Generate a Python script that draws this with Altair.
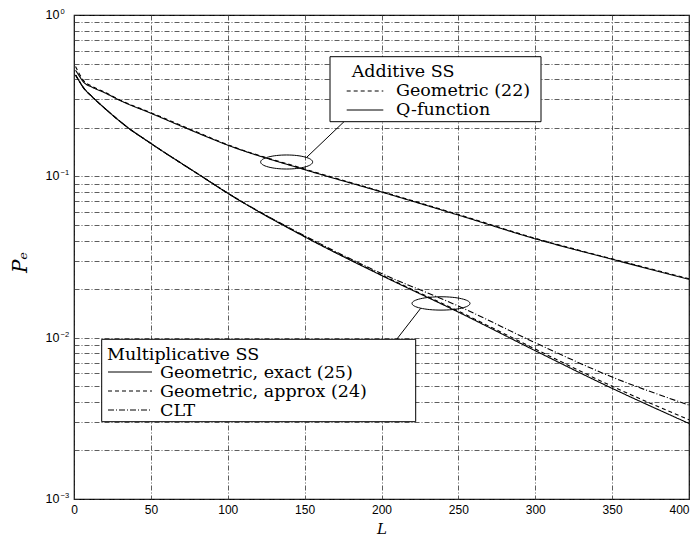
import altair as alt
import pandas as pd

# ---- data ----
L_add = [1, 3, 6, 12, 19, 30, 50, 75, 100, 150, 200, 250, 300, 350, 400]
P_add_q = [0.455, 0.425, 0.386, 0.356, 0.333, 0.295, 0.246, 0.195, 0.156, 0.110, 0.080, 0.0575, 0.041, 0.0306, 0.023]
P_add_geo = [0.48, 0.44, 0.395, 0.36, 0.336, 0.297, 0.248, 0.197, 0.157, 0.111, 0.0805, 0.058, 0.0413, 0.0308, 0.0232]

L_mul = [1, 3, 6, 12, 20, 34, 50, 83, 100, 150, 200, 250, 300, 350, 400]
P_mul_exact = [0.425, 0.395, 0.356, 0.31, 0.264, 0.204, 0.160, 0.100, 0.0785, 0.0422, 0.0243, 0.0144, 0.0083, 0.00485, 0.00294]
P_mul_approx = [0.425, 0.395, 0.356, 0.31, 0.264, 0.204, 0.160, 0.100, 0.0787, 0.0424, 0.0245, 0.0146, 0.0085, 0.0050, 0.0031]
P_clt = [0.425, 0.395, 0.356, 0.31, 0.264, 0.204, 0.160, 0.100, 0.0787, 0.0428, 0.0250, 0.0157, 0.0093, 0.0057, 0.00382]

x_ticks = [0, 50, 100, 150, 200, 250, 300, 350, 400]
decades = [1, 0.1, 0.01, 0.001]
exponents = ["0", "\u22121", "\u22122", "\u22123"]
y_grid = [m * d for d in [0.001, 0.01, 0.1] for m in range(1, 10)] + [1]

series_names = ["add_geo", "add_q", "mul_exact", "mul_approx", "clt"]
series_dash = [[4, 3], [1, 0], [1, 0], [4, 3], [6, 2, 1, 2]]

rows = []
for name, Ls, Ps in [("add_geo", L_add, P_add_geo), ("add_q", L_add, P_add_q),
                     ("mul_exact", L_mul, P_mul_exact), ("mul_approx", L_mul, P_mul_approx),
                     ("clt", L_mul, P_clt)]:
    for l, p in zip(Ls, Ps):
        rows.append({"series": name, "L": l, "P": p})
df = pd.DataFrame(rows)

W, H = 615, 484
xs = alt.Scale(domain=[0, 400], nice=False, zero=False)
ys = alt.Scale(type="log", domain=[0.001, 1], nice=False)

grid_axis_x = alt.Axis(values=x_ticks, grid=True, gridDash=[5, 2, 1, 2], gridColor="#333",
                       gridWidth=0.8, ticks=False, domain=False, labelFont="Liberation Sans",
                       labelFontSize=12, labelPadding=5, labelColor="black", labelFlush=False,
                       labelOverlap=False,
                       labelAlign={"condition": {"test": "datum.value >= 400", "value": "right"}, "value": "center"},
                       title="L", titleFont="DejaVu Serif", titleFontStyle="italic",
                       titleFontWeight="normal", titleFontSize=15, titleY=34,
                       titleBaseline="alphabetic", titleColor="black")
grid_axis_y = alt.Axis(values=y_grid, grid=True, gridDash=[5, 2, 1, 2], gridColor="#333",
                       gridWidth=0.8, ticks=False, domain=False, labels=False,
                       title="P\u2091", titleFont="DejaVu Serif", titleFontStyle="italic",
                       titleFontWeight="normal", titleFontSize=20, titleX=-48, titleY=247,
                       titleBaseline="alphabetic", titleAngle=270, titleColor="black")

lines = alt.Chart(df).mark_line(color="black", strokeWidth=1.1, interpolate="monotone").encode(
    x=alt.X("L:Q", scale=xs, axis=grid_axis_x),
    y=alt.Y("P:Q", scale=ys, axis=grid_axis_y),
    strokeDash=alt.StrokeDash("series:N", scale=alt.Scale(domain=series_names, range=series_dash), legend=None),
    detail="series:N",
)

dec_df = pd.DataFrame({"P": decades, "exp": exponents})
ylab10 = alt.Chart(dec_df).mark_text(align="right", baseline="middle", font="Liberation Sans",
                                     fontSize=12.5, color="black").encode(
    x=alt.value(-14.5), y=alt.Y("P:Q", scale=ys), text=alt.value("10"))
ylabexp = alt.Chart(dec_df).mark_text(align="left", baseline="middle", font="Liberation Sans",
                                      fontSize=7.5, color="black", dy=-3).encode(
    x=alt.value(-13.5), y=alt.Y("P:Q", scale=ys), text="exp:N")

one = alt.Data(values=[{}])

def rect(x, x2, y, y2):
    return alt.Chart(one).mark_rect(fill="white", stroke="black", strokeWidth=1).encode(
        x=alt.value(x), x2=alt.value(x2), y=alt.value(y), y2=alt.value(y2))

def seg(x, x2, y, y2, dash=None):
    kw = {"color": "black", "strokeWidth": 1}
    if dash is not None:
        kw["strokeDash"] = dash
    return alt.Chart(one).mark_rule(**kw).encode(
        x=alt.value(x), x2=alt.value(x2), y=alt.value(y), y2=alt.value(y2))

def txt(s, x, y):
    return alt.Chart(one).mark_text(align="left", baseline="alphabetic", font="DejaVu Serif",
                                    fontSize=17.5, color="black").encode(
        x=alt.value(x), y=alt.value(y), text=alt.value(s))

# ellipses (annotation) positioned in data coordinates
ell1 = alt.Chart(pd.DataFrame({"L": [138.3], "P": [0.1227]})).mark_point(
    shape="M -1 0 A 1 0.27 0 1 1 1 0 A 1 0.27 0 1 1 -1 0 Z", size=2704,
    stroke="black", strokeWidth=1, filled=False, opacity=1).encode(
    x=alt.X("L:Q", scale=xs), y=alt.Y("P:Q", scale=ys))
ell2 = alt.Chart(pd.DataFrame({"L": [238.7], "P": [0.0163]})).mark_point(
    shape="M -1 0 A 1 0.23 0 1 1 1 0 A 1 0.23 0 1 1 -1 0 Z", size=3364,
    stroke="black", strokeWidth=1, filled=False, opacity=1).encode(
    x=alt.X("L:Q", scale=xs), y=alt.Y("P:Q", scale=ys))

legend1 = [
    rect(256, 467, 41.7, 106.7),
    txt("Additive SS", 277.7, 62),
    seg(272.7, 309.3, 76, 76, [4, 3]),
    txt("Geometric (22)", 322, 81),
    seg(272.7, 309.3, 95, 95),
    txt("Q-function", 322, 100),
]
legend2 = [
    rect(27.7, 341.7, 324.3, 406.7),
    txt("Multiplicative SS", 33, 345),
    seg(34, 78, 357, 357),
    txt("Geometric, exact (25)", 86, 363),
    seg(34, 78, 376, 376, [4, 3]),
    txt("Geometric, approx (24)", 86, 382),
    seg(34, 78, 395, 395, [6, 2, 1, 2]),
    txt("CLT", 86, 401),
]
leaders = [seg(232.7, 270, 142.3, 106.7), seg(346.7, 322.7, 293.3, 324.3)]

chart = alt.layer(lines, ylab10, ylabexp, ell1, ell2, *leaders, *legend1, *legend2).properties(
    width=W, height=H,
    autosize=alt.AutoSizeParams(type="none"),
    padding={"left": 66, "top": 7, "right": 2, "bottom": 38},
    background="white",
).configure_view(stroke="black", strokeWidth=1.2)

chart.save("out.html", embed_options={"renderer": "svg", "actions": False})
